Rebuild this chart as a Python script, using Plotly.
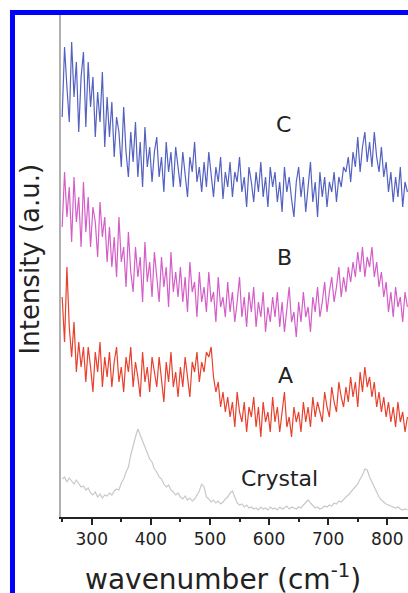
import plotly.graph_objects as go

# wavenumber grid (cm^-1), one reading every 4 cm^-1
wavenumber = list(range(250, 835, 4))

# intensities (a.u., arbitrary offset per trace)
C = [400, 470, 430, 395, 475, 420, 455, 385, 440, 465,
     390, 455, 410, 440, 380, 425, 395, 445, 370, 420,
     380, 415, 360, 400, 385, 350, 410, 365, 340, 385,
     355, 395, 340, 375, 330, 390, 350, 370, 335, 365,
     380, 340, 360, 325, 375, 345, 365, 330, 370, 350,
     330, 365, 340, 320, 360, 345, 375, 335, 350, 325,
     355, 330, 365, 340, 320, 350, 335, 360, 318, 345,
     330, 355, 320, 345, 335, 360, 325, 340, 310, 350,
     335, 315, 345, 325, 355, 320, 340, 310, 350, 330,
     345, 315, 335, 305, 350, 325, 340, 318, 300, 335,
     350, 320, 340, 305, 330, 355, 315, 335, 300, 345,
     320, 340, 310, 335, 325, 345, 315, 340, 330, 350,
     345, 360, 335, 365, 350, 380, 345, 370, 385, 355,
     375, 350, 385, 360, 345, 370, 340, 355, 325, 345,
     315, 340, 320, 350, 310, 335, 325]

B = [290, 345, 300, 330, 275, 340, 295, 320, 270, 335,
     285, 320, 270, 310, 295, 260, 315, 280, 300, 255,
     290, 250, 280, 240, 300, 255, 270, 230, 285, 245,
     225, 270, 240, 260, 215, 275, 235, 255, 220, 265,
     240, 215, 260, 230, 250, 210, 265, 225, 245, 220,
     250, 215, 240, 205, 255, 225, 235, 200, 245, 215,
     230, 205, 245, 215, 225, 195, 240, 210, 220, 200,
     235, 205, 225, 195, 215, 240, 200, 220, 190, 225,
     205, 230, 190, 215, 200, 225, 185, 210, 195, 220,
     200, 225, 190, 215, 185, 210, 230, 195, 205, 180,
     215, 195, 225, 200, 210, 185, 220, 205, 230, 200,
     215, 235, 205, 225, 240, 215, 230, 250, 220, 240,
     225, 250, 235, 255, 240, 265, 245, 270, 240, 260,
     250, 270, 240, 255, 230, 245, 220, 235, 205, 225,
     200, 230, 210, 220, 195, 225, 210]

A = [220, 175, 250, 190, 160, 195, 145, 175, 150, 170,
     135, 170, 150, 125, 165, 145, 175, 130, 160, 140,
     165, 130, 155, 170, 135, 150, 125, 160, 145, 170,
     130, 155, 140, 120, 165, 135, 150, 125, 160, 145,
     130, 160, 140, 115, 155, 135, 165, 130, 145, 120,
     150, 130, 160, 140, 120, 155, 145, 165, 135, 155,
     145, 165, 160, 170, 140, 125, 135, 110, 125, 105,
     120, 100, 115, 90, 125, 105, 95, 115, 85, 110,
     100, 120, 90, 110, 80, 115, 95, 105, 85, 120,
     95, 110, 85, 105, 125, 90, 100, 80, 110, 95,
     105, 85, 115, 95, 110, 90, 120, 100, 115, 105,
     95, 125, 110, 100, 130, 115, 105, 135, 120, 110,
     130, 115, 140, 120, 135, 110, 145, 125, 150, 130,
     140, 120, 135, 110, 125, 105, 120, 100, 115, 95,
     110, 90, 115, 95, 105, 85, 100]

Crystal = [38, 40, 35, 39, 36, 33, 37, 34, 30, 31,
           27, 29, 24, 22, 25, 20, 23, 19, 22, 21,
           24, 22, 26, 28, 27, 34, 38, 45, 50, 62,
           72, 80, 88, 82, 76, 70, 64, 58, 55, 48,
           45, 40, 38, 33, 30, 32, 27, 25, 22, 24,
           20, 18, 21, 17, 19, 16, 18, 22, 26, 33,
           30, 20, 18, 15, 17, 14, 16, 13, 15, 18,
           20, 24, 26, 20, 14, 12, 13, 10, 12, 9,
           10, 8, 9, 7, 10, 8, 9, 7, 10, 8,
           9, 7, 10, 8, 9, 11, 8, 10, 9, 8,
           10, 9, 12, 15, 17, 14, 11, 9, 10, 8,
           9, 11, 10, 12, 11, 14, 13, 16, 15, 18,
           20, 22, 25, 27, 30, 33, 38, 42, 48, 47,
           40, 34, 30, 25, 20, 17, 15, 13, 12, 11,
           10, 9, 10, 8, 7, 8, 7]

series_names = ["Crystal", "A", "B", "C"]
series_values = [Crystal, A, B, C]
series_colors = ["#c8c8c8", "#e8402c", "#d45ec8", "#5361c0"]
label_pos = {"C": (624, 393), "B": (626, 260), "A": (627, 142), "Crystal": (618, 39)}

x_tickvals = [300, 400, 500, 600, 700, 800]
x_ticktext = ["300", "400", "500", "600", "700", "800"]

fig = go.Figure()
for name, vals, col in zip(series_names, series_values, series_colors):
    fig.add_trace(go.Scatter(x=wavenumber, y=vals, mode="lines", name=name,
                             line=dict(color=col, width=1.2), showlegend=False))

for name in series_names:
    lx, ly = label_pos[name]
    fig.add_annotation(x=lx, y=ly, xref="x", yref="y", text=name, showarrow=False,
                       font=dict(family="DejaVu Sans", size=22, color="#222222"))

# axis titles
fig.add_annotation(x=0.467, y=-0.12, xref="paper", yref="paper",
                   text="wavenumber (cm<sup>-1</sup>)", showarrow=False,
                   xanchor="center", yanchor="middle",
                   font=dict(family="DejaVu Sans", size=28, color="#222222"))
fig.add_annotation(x=-0.0908, y=0.513, xref="paper", yref="paper",
                   text="Intensity (a.u.)", showarrow=False, textangle=-90,
                   xanchor="center", yanchor="middle",
                   font=dict(family="DejaVu Sans", size=26, color="#222222"))

# blue frame of the original figure
fig.add_shape(type="rect", xref="paper", yref="paper",
              x0=-0.1398, x1=1.3, y0=-0.4, y1=1.003,
              line=dict(color="#0000ff", width=5), layer="above")

fig.update_layout(
    width=408, height=593,
    margin=dict(l=61, r=0, t=14, b=76),
    paper_bgcolor="white", plot_bgcolor="white",
    xaxis=dict(range=[248, 835], tickvals=x_tickvals, ticktext=x_ticktext,
               ticks="outside", ticklen=6, tickwidth=1.5, tickcolor="#222",
               minor=dict(dtick=50, tick0=250, ticks="outside", ticklen=3,
                          tickwidth=1.5, tickcolor="#222"),
               showline=True, linecolor="#222", linewidth=1.5,
               showgrid=False, zeroline=False, ticklabelstandoff=0,
               tickfont=dict(family="DejaVu Sans", size=17, color="#222")),
    yaxis=dict(range=[0, 503], showline=True, linecolor="#b0b0b0", linewidth=1.5,
               showticklabels=False, ticks="", showgrid=False, zeroline=False),
)

fig.write_html("out.html")
